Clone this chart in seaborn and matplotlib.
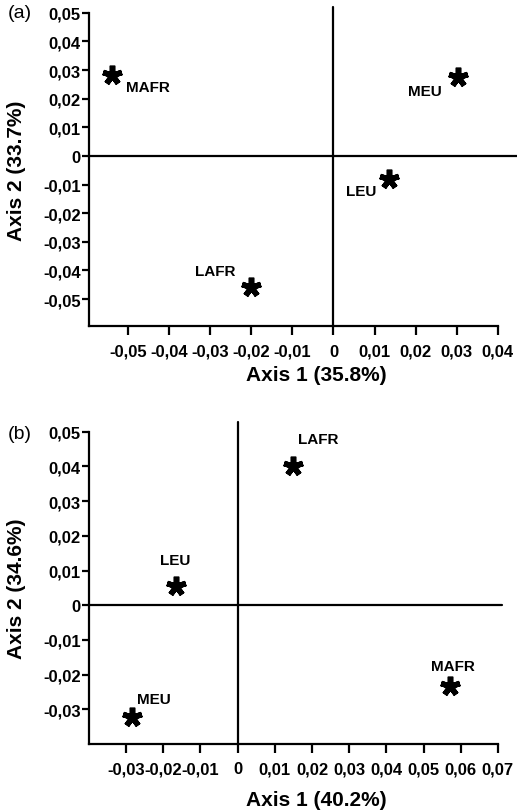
import numpy as np
import pandas as pd
import matplotlib.pyplot as plt
import seaborn as sns

# 資料 (a)
groups_a = ['MAFR', 'MEU', 'LEU', 'LAFR']
axis1_a = [-0.0539, 0.0302, 0.0134, -0.0200]
axis2_a = [0.0281, 0.0276, -0.0080, -0.0458]
xticks_a = [-0.05, -0.04, -0.03, -0.02, -0.01, 0, 0.01, 0.02, 0.03, 0.04]
xticklabels_a = ['-0,05', '-0,04', '-0,03', '-0,02', '-0,01', '0', '0,01', '0,02', '0,03', '0,04']
yticks_a = [-0.05, -0.04, -0.03, -0.02, -0.01, 0, 0.01, 0.02, 0.03, 0.04, 0.05]
yticklabels_a = ['-0,05', '-0,04', '-0,03', '-0,02', '-0,01', '0', '0,01', '0,02', '0,03', '0,04', '0,05']

# 資料 (b)
groups_b = ['LEU', 'LAFR', 'MEU', 'MAFR']
axis1_b = [-0.0167, 0.0148, -0.0283, 0.0571]
axis2_b = [0.0055, 0.0402, -0.0322, -0.0233]
xticks_b = [-0.03, -0.02, -0.01, 0, 0.01, 0.02, 0.03, 0.04, 0.05, 0.06, 0.07]
xticklabels_b = ['-0,03', '-0,02', '-0,01', '0', '0,01', '0,02', '0,03', '0,04', '0,05', '0,06', '0,07']
yticks_b = [-0.03, -0.02, -0.01, 0, 0.01, 0.02, 0.03, 0.04, 0.05]
yticklabels_b = ['-0,03', '-0,02', '-0,01', '0', '0,01', '0,02', '0,03', '0,04', '0,05']

sns.set_style('ticks')
plt.rcParams['font.family'] = ['Liberation Sans', 'DejaVu Sans']
plt.rcParams['text.color'] = 'black'
plt.rcParams['axes.labelcolor'] = 'black'
plt.rcParams['xtick.color'] = 'black'
plt.rcParams['ytick.color'] = 'black'

fig = plt.figure(figsize=(5.17, 8.12), dpi=100)
ax_a = fig.add_axes([0.172, 0.597, 0.791, 0.386])
ax_b = fig.add_axes([0.172, 0.0825, 0.791, 0.3845])

# 標籤偏移 (offset points) 與對齊
offsets_a = {'MAFR': (10, -8, 'left'), 'MEU': (-11.5, -10, 'right'),
             'LEU': (-8.6, -8.6, 'right'), 'LAFR': (-11, 11.5, 'right')}
offsets_b = {'LEU': (0, 19, 'center'), 'LAFR': (3.5, 19, 'left'),
             'MEU': (3, 13, 'left'), 'MAFR': (2.5, 14.5, 'center')}


def draw_panel(ax, groups, xs, ys, xticks, xtl, yticks, ytl, xlim, ylim,
               xlabel, ylabel, offsets, vline_top, hline_right, xlab_y):
    df = pd.DataFrame({'group': groups, 'x': xs, 'y': ys})
    ax.axhline(0, xmin=0, xmax=hline_right, color='black', lw=1.6, clip_on=False, zorder=1)
    ax.axvline(0, ymin=0, ymax=vline_top, color='black', lw=1.6, clip_on=False, zorder=1)
    sns.scatterplot(data=df, x='x', y='y', ax=ax, marker=(5, 2, 0), s=200,
                    color='black', edgecolor='black', linewidth=4.0, zorder=3, legend=False)
    # 星號端點改為平頭
    ax.collections[-1].set_capstyle('butt')
    ax.collections[-1].set_joinstyle('miter')
    for g, x, y in zip(groups, xs, ys):
        dx, dy, ha = offsets[g]
        ax.annotate(g, (x, y), xytext=(dx, dy), textcoords='offset points',
                    ha=ha, va='center', fontsize=11, fontweight='bold')
    ax.set_xlim(xlim)
    ax.set_ylim(ylim)
    ax.set_xticks(xticks)
    ax.set_xticklabels(xtl)
    ax.set_yticks(yticks)
    ax.set_yticklabels(ytl)
    for lab in ax.get_xticklabels() + ax.get_yticklabels():
        lab.set_fontweight('bold')
    ax.tick_params(axis='x', length=6.5, width=1.6, pad=6, labelsize=12)
    ax.tick_params(axis='y', length=5, width=1.6, pad=1, labelsize=12)
    sns.despine(ax=ax)
    for sp in ['left', 'bottom']:
        ax.spines[sp].set_linewidth(1.6)
        ax.spines[sp].set_color('black')
    ax.set_xlabel(xlabel, fontsize=15, fontweight='bold')
    ax.set_ylabel(ylabel, fontsize=15, fontweight='bold')
    ax.xaxis.set_label_coords(0.555, xlab_y)
    ax.yaxis.set_label_coords(-0.155, 0.5)


draw_panel(ax_a, groups_a, axis1_a, axis2_a, xticks_a, xticklabels_a,
           yticks_a, yticklabels_a, (-0.0595, 0.04), (-0.0595, 0.05),
           'Axis 1 (35.8%)', 'Axis 2 (33.7%)', offsets_a, 1.02, 1.046, -0.125)
draw_panel(ax_b, groups_b, axis1_b, axis2_b, xticks_b, xticklabels_b,
           yticks_b, yticklabels_b, (-0.04, 0.07), (-0.04, 0.05),
           'Axis 1 (40.2%)', 'Axis 2 (34.6%)', offsets_b, 1.03, 1.01, -0.147)

fig.text(8 / 517, 1 - 14 / 812, '(a)', fontsize=14, ha='left', va='center')
fig.text(8 / 517, 1 - 435 / 812, '(b)', fontsize=14, ha='left', va='center')

fig.savefig('out.png', dpi=100)
